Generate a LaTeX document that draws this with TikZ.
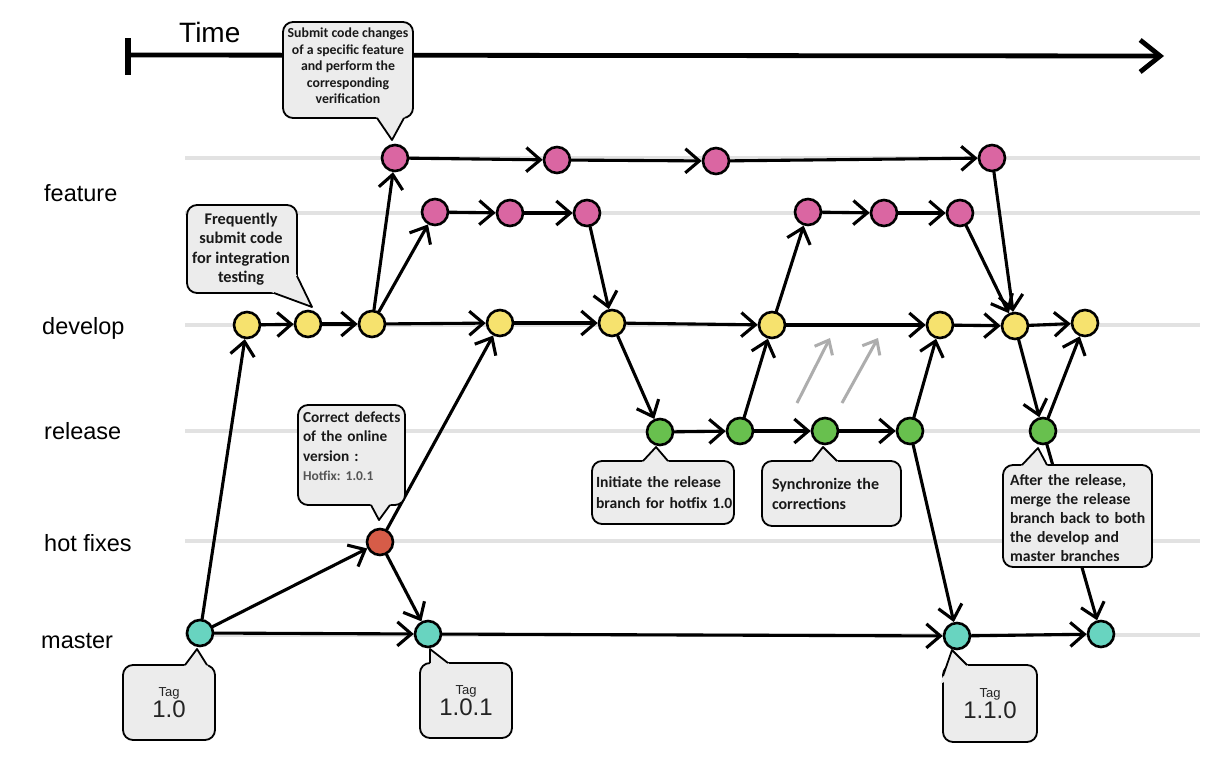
\documentclass[tikz,border=0pt]{standalone}
\usepackage{fontspec}
\setmainfont{Liberation Sans}
\newfontfamily\calfont{Carlito}
\usetikzlibrary{arrows.meta,calc}
\definecolor{featc}{RGB}{218,102,162}
\definecolor{devc}{RGB}{246,226,110}
\definecolor{relc}{RGB}{104,192,78}
\definecolor{hotc}{RGB}{214,92,72}
\definecolor{masc}{RGB}{104,212,192}
\definecolor{lanec}{RGB}{226,226,226}
\definecolor{callfill}{RGB}{236,236,236}
\definecolor{tagtext}{RGB}{35,35,35}
\definecolor{hfgrey}{RGB}{85,85,85}
\frenchspacing
\newcommand\callptr[3]{%
  \fill[callfill] ($(#2)!1.3!(#1)$) -- (#2) -- ($(#2)!1.3!(#3)$) -- cycle;
  \draw[callline] (#1) -- (#2) -- (#3);}
\begin{document}
\begin{tikzpicture}[x=1pt,y=-1pt,
  commit/.style={circle,draw=black,line width=2.6pt,minimum size=26pt,inner sep=0pt},
  feat/.style={commit,fill=featc},
  dev/.style={commit,fill=devc},
  rel/.style={commit,fill=relc},
  hot/.style={commit,fill=hotc},
  mas/.style={commit,fill=masc},
  lane/.style={draw=lanec,line width=4pt},
  lab/.style={font=\fontsize{23.5}{27}\selectfont,anchor=base west,inner sep=0pt},
  conn/.style={draw=black,line width=3.1pt,line cap=round,-{Straight Barb[length=14pt,width=24pt]}},
  ghost/.style={draw=black!32,line width=3pt,-{Straight Barb[length=12pt,width=20pt]}},
  callline/.style={draw=black,line width=1.8pt,line join=round},
  callbox/.style={draw=black,line width=1.8pt,rounded corners=10pt,fill=callfill,inner sep=0pt},
  ctext/.style={text=black!90,inner sep=0pt},
  tagbox/.style={callbox,align=center,text=tagtext,minimum width=92pt,minimum height=75pt}
]
\fill[white] (0,0) rectangle (1218,766);
\useasboundingbox (0,0) rectangle (1218,766);

% time axis
\node[font=\fontsize{28}{32}\selectfont,anchor=base west,inner sep=0pt] (time) at (179,42) {Time};
\coordinate (tstart) at (128,55);
\coordinate (tend) at (1164,56);
\draw[line width=6.5pt] (128,38) -- (128,75);
\draw[line width=4.8pt,-{Straight Barb[length=20pt,width=32pt]}] (tstart) -- (tend);

% lanes
\foreach \y in {158,213,325,431,541,635} \draw[lane] (185,\y) -- (1200,\y);

% lane labels
\node[lab] (lfeat) at (44,201) {feature};
\node[lab] (ldev) at (42,334) {develop};
\node[lab] (lrel) at (44,439) {release};
\node[lab] (lhot) at (44,551) {hot fixes};
\node[lab] (lmas) at (41,648) {master};

% commits
\node[feat] (f1) at (395,158) {};
\node[feat] (f2) at (557,160) {};
\node[feat] (f3) at (716,161) {};
\node[feat] (f4) at (992,158) {};
\node[feat] (g1) at (435,212) {};
\node[feat] (g2) at (510,213) {};
\node[feat] (g3) at (587,213) {};
\node[feat] (g4) at (808,212) {};
\node[feat] (g5) at (884,213) {};
\node[feat] (g6) at (960,213) {};
\node[dev] (d1) at (247,325) {};
\node[dev] (d2) at (308,324) {};
\node[dev] (d3) at (372,324) {};
\node[dev] (d4) at (500,323) {};
\node[dev] (d5) at (612,323) {};
\node[dev] (d6) at (772,325) {};
\node[dev] (d7) at (940,325) {};
\node[dev] (d8) at (1015,326) {};
\node[dev] (d9) at (1085,323) {};
\node[rel] (r1) at (660,432) {};
\node[rel] (r2) at (740,431) {};
\node[rel] (r3) at (825,431) {};
\node[rel] (r4) at (910,431) {};
\node[rel] (r5) at (1043,431) {};
\node[hot] (h1) at (380,542) {};
\node[mas] (m1) at (200,633) {};
\node[mas] (m2) at (428,634) {};
\node[mas] (m3) at (957,636) {};
\node[mas] (m4) at (1101,634) {};

% connectors
\draw[conn] (m1) -- (d1);
\draw[conn] (m1) -- (h1);
\draw[conn] (m1) -- (m2);
\draw[conn] (h1) -- (m2);
\draw[conn] (h1) -- (d4);
\draw[conn] (d1) -- (d2);
\draw[conn] (d2) -- (d3);
\draw[conn] (d3) -- (f1);
\draw[conn] (d3) -- (g1);
\draw[conn] (d3) -- (d4);
\draw[conn] (d4) -- (d5);
\draw[conn] (f1) -- (f2);
\draw[conn] (f2) -- (f3);
\draw[conn] (f3) -- (f4);
\draw[conn] (g1) -- (g2);
\draw[conn] (g2) -- (g3);
\draw[conn] (g3) -- (d5);
\draw[conn] (d5) -- (r1);
\draw[conn] (d5) -- (d6);
\draw[conn] (r1) -- (r2);
\draw[conn] (r2) -- (d6);
\draw[conn] (r2) -- (r3);
\draw[conn] (r3) -- (r4);
\draw[conn] (r4) -- (d7);
\draw[conn] (r4) -- (m3);
\draw[conn] (d6) -- (g4);
\draw[conn] (d6) -- (d7);
\draw[conn] (g4) -- (g5);
\draw[conn] (g5) -- (g6);
\draw[conn] (g6) -- (d8);
\draw[conn] (f4) -- (d8);
\draw[conn] (d7) -- (d8);
\draw[conn] (d8) -- (d9);
\draw[conn] (d8) -- (r5);
\draw[conn] (r5) -- (d9);
\draw[conn] (r5) -- (m4);
\draw[conn] (m2) -- (m3);
\draw[conn] (m3) -- (m4);

% grey sync arrows
\coordinate (s1a) at (797,403); \coordinate (s1b) at (830,338);
\coordinate (s2a) at (842,403); \coordinate (s2b) at (878,338);
\draw[ghost] (s1a) -- (s1b);
\draw[ghost] (s2a) -- (s2b);

% callouts
\node[callbox,minimum width=130pt,minimum height=96pt] (c1box) at (348,70) {};
\callptr{377,118}{392,140}{404,118}
\node[ctext,align=center,font=\calfont\bfseries\fontsize{13.8}{16.5}\selectfont] (c1) at (348,66)
  {Submit code changes\\of a specific feature\\and perform the\\corresponding\\verification};

\node[callbox,minimum width=110pt,minimum height=88pt] (c2box) at (242,249) {};
\callptr{297,276}{312,307}{274,293}
\node[ctext,align=center,font=\calfont\bfseries\fontsize{16.3}{19.5}\selectfont] (c2) at (241,249)
  {Frequently\\submit code\\for integration\\testing};

\node[callbox,minimum width=107pt,minimum height=100pt] (c3box) at (351.5,455) {};
\callptr{371,505}{379,520}{390,505}
\node[ctext,text width=101pt,align=left,font=\calfont\bfseries\fontsize{15.3}{19.5}\selectfont] (c3) at (353.5,446)
  {Correct defects\\of the online\\version :\\{\fontsize{13.5}{16}\selectfont\color{hfgrey}Hotfix: 1.0.1}};

\node[callbox,minimum width=142pt,minimum height=63pt] (c4box) at (663,492.5) {};
\callptr{643,461}{656,447}{668,461}
\node[ctext,text width=137pt,align=left,font=\calfont\bfseries\fontsize{15.6}{21}\selectfont] (c4) at (664.5,492.5)
  {Initiate the release\\branch for hotfix 1.0};

\node[callbox,minimum width=139pt,minimum height=65pt] (c5box) at (831.5,493.5) {};
\callptr{812,461}{823,447}{837,461}
\node[ctext,text width=126pt,align=left,font=\calfont\bfseries\fontsize{16}{20}\selectfont] (c5) at (835,494)
  {Synchronize the\\corrections};

\node[callbox,minimum width=149pt,minimum height=102pt] (c6box) at (1077.5,516) {};
\callptr{1022,465}{1038,448}{1047,465}
\node[ctext,text width=140pt,align=left,font=\calfont\bfseries\fontsize{15.7}{19}\selectfont] (c6) at (1080,518)
  {After the release,\\merge the release\\branch back to both\\the develop and\\master branches};

% tags
\node[tagbox] (t1) at (169,702.5)
  {{\fontsize{13}{15}\selectfont Tag}\\[1pt]{\fontsize{24}{26}\selectfont 1.0}};
\callptr{185,665}{197,649}{207,665}
\node[tagbox] (t2) at (466,700.5)
  {{\fontsize{13}{15}\selectfont Tag}\\[1pt]{\fontsize{24}{26}\selectfont 1.0.1}};
\callptr{430,663}{430,649}{448,663}
\node[tagbox,minimum width=94pt,minimum height=77pt] (t3) at (990,703.5)
  {{\fontsize{13}{15}\selectfont Tag}\\[1pt]{\fontsize{24}{26}\selectfont 1.1.0}};
\callptr{943,676}{952,650}{967,665}
\end{tikzpicture}
\end{document}
